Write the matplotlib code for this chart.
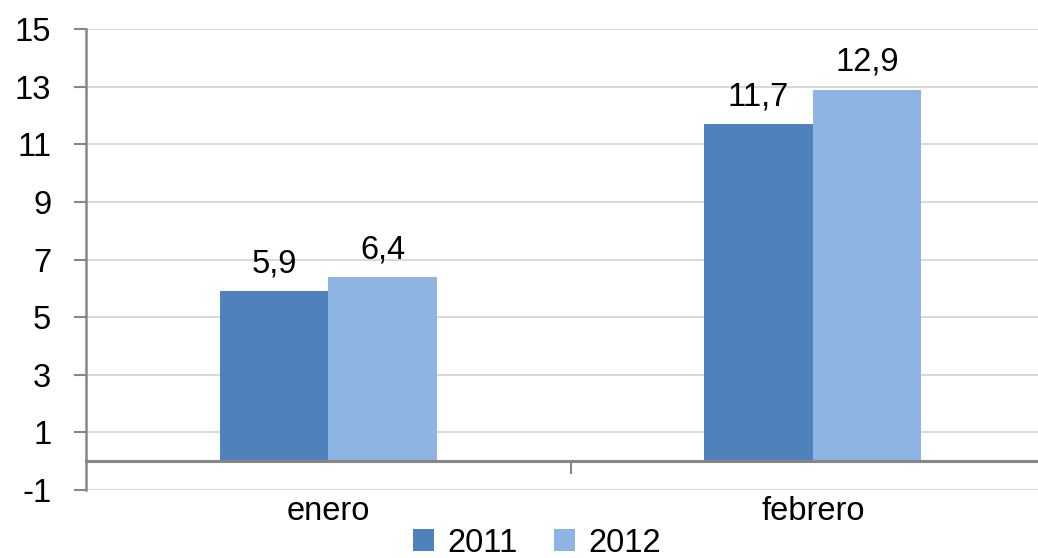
import matplotlib
matplotlib.use("Agg")
import matplotlib.pyplot as plt
from matplotlib.patches import Patch
import numpy as np

categories = ["enero", "febrero"]
series_names = ["2011", "2012"]
values_2011 = [5.9, 11.7]
values_2012 = [6.4, 12.9]
yticks = [-1, 1, 3, 5, 7, 9, 11, 13, 15]
colors = ["#4F81BD", "#8EB4E3"]

plt.rcParams["font.family"] = ["Liberation Sans", "DejaVu Sans"]
fs = 23.5

fig = plt.figure(figsize=(10.38, 5.58), dpi=100)
ax = fig.add_axes([86/1038, 1 - 490/558, (1055 - 86)/1038, (490 - 29)/558])

x = np.arange(len(categories))
w = 0.224
b1 = ax.bar(x - w/2, values_2011, w, color=colors[0], zorder=3)
b2 = ax.bar(x + w/2, values_2012, w, color=colors[1], zorder=3)

for bars, vals in ((b1, values_2011), (b2, values_2012)):
    for r, v in zip(bars, vals):
        ax.annotate(f"{v:.1f}".replace(".", ","),
                    (r.get_x() + r.get_width()/2, v),
                    xytext=(0, 13.5), textcoords="offset points",
                    ha="center", va="baseline", fontsize=fs)

ax.set_xlim(-0.5, 1.5)
ax.set_ylim(-1, 15)
ax.set_yticks(yticks)
ax.set_yticklabels([str(t) for t in yticks], fontsize=fs)
ax.yaxis.grid(True, color="#D9D9D9", linewidth=1.5, zorder=0)
ax.set_axisbelow(True)

for s in ("top", "right"):
    ax.spines[s].set_visible(False)
ax.spines["left"].set_color("#868686")
ax.spines["left"].set_linewidth(1.8)
ax.spines["bottom"].set_position(("data", 0))
ax.spines["bottom"].set_color("#868686")
ax.spines["bottom"].set_linewidth(2.2)
ax.spines["bottom"].set_zorder(4)

ax.tick_params(axis="y", length=9, width=1.5, color="#868686", pad=16)
ax.set_xticks(x)
ax.set_xticklabels(categories, fontsize=fs)
ax.tick_params(axis="x", which="major", length=0, pad=25)
ax.set_xticks([0.5], minor=True)
ax.tick_params(axis="x", which="minor", length=9, width=1.5, color="#868686")

handles = [Patch(facecolor=c, edgecolor="none") for c in colors]
fig.legend(handles, series_names, loc="center", bbox_to_anchor=(537/1038, 1 - 543/558),
           ncol=2, frameon=False, fontsize=fs, handlelength=0.65, handleheight=0.65,
           handletextpad=0.4, columnspacing=1.1, borderpad=0)

fig.savefig("out.png", dpi=100)
